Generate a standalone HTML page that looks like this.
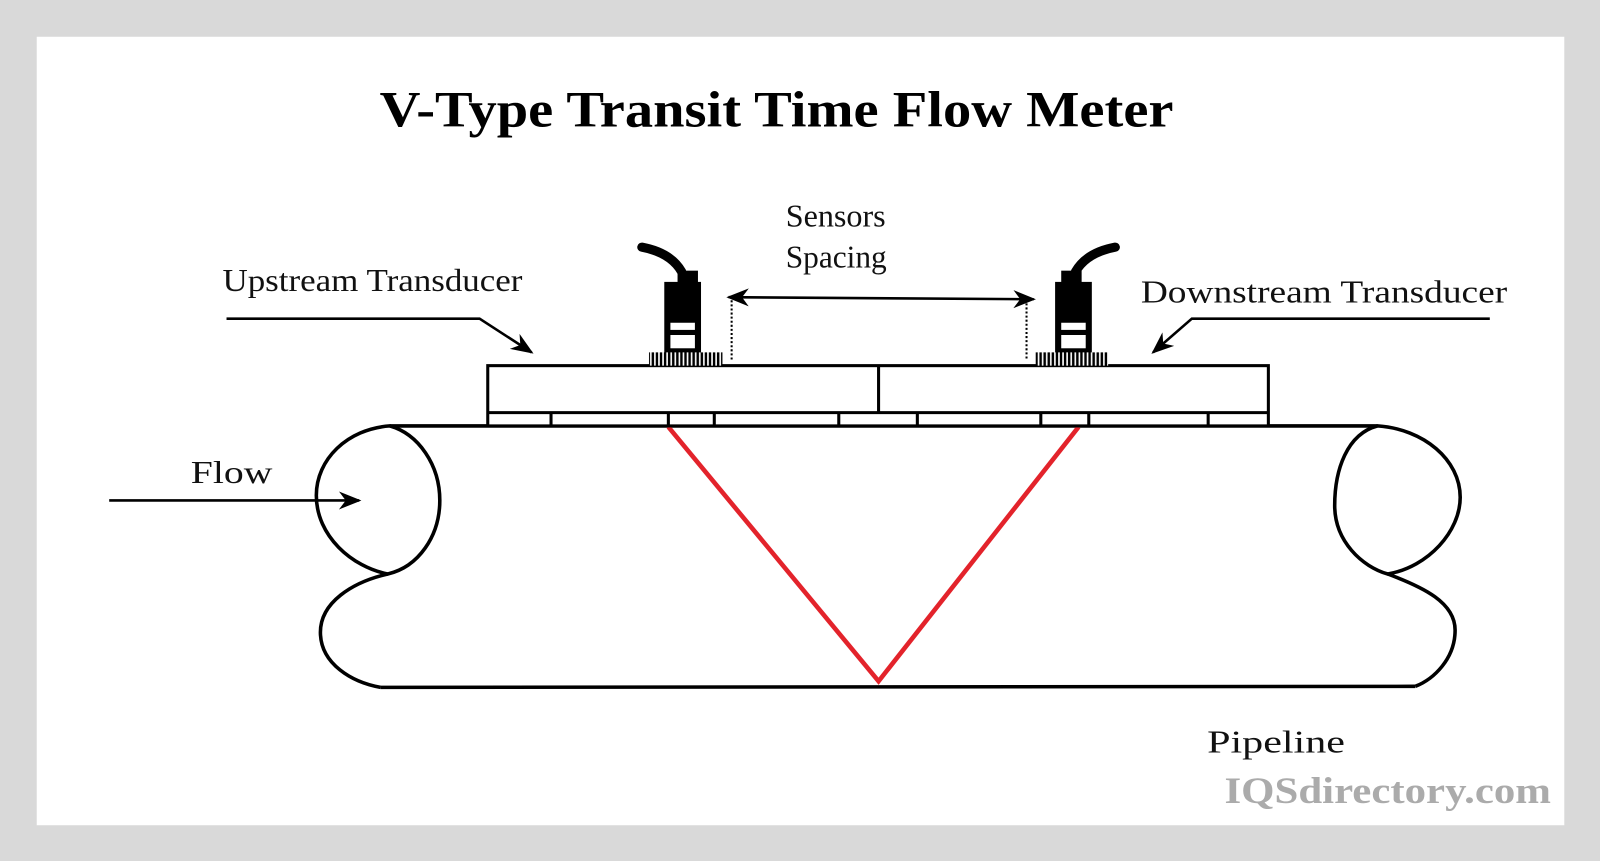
<!DOCTYPE html>
<html><head><meta charset="utf-8"><style>
html,body{margin:0;padding:0;background:#d9d9d9;}
svg{display:block;}
</style></head><body>
<svg width="1600" height="861" viewBox="0 0 1568 843" preserveAspectRatio="none" xmlns="http://www.w3.org/2000/svg">
<defs>
<marker id="ah" viewBox="0 0 10 10" refX="9" refY="5" markerWidth="9" markerHeight="9" orient="auto-start-reverse" markerUnits="userSpaceOnUse"><path d="M0,0 L10,5 L0,10 L3,5 z" fill="#000"/></marker>
<marker id="ab" viewBox="0 0 10 10" refX="9" refY="5" markerWidth="22" markerHeight="22" orient="auto-start-reverse" markerUnits="userSpaceOnUse"><path d="M0,1 L10,5 L0,9 L3,5 z" fill="#000"/></marker>
<pattern id="serr" width="4" height="10" patternUnits="userSpaceOnUse"><rect width="4" height="10" fill="#000"/><rect x="1" y="0" width="1.6" height="10" fill="#fff"/></pattern>
</defs>
<rect x="0" y="0" width="1568" height="843" fill="#d9d9d9"/>
<rect x="36" y="36" width="1497" height="772" fill="#fff"/>
<text x="761" y="124" text-anchor="middle" font-family="Liberation Serif, serif" font-weight="bold" font-size="50" textLength="778" lengthAdjust="spacingAndGlyphs">V-Type Transit Time Flow Meter</text>

<g font-family="Liberation Serif, serif" font-size="31" fill="#111">
<text x="218" y="285" textLength="294" lengthAdjust="spacingAndGlyphs">Upstream Transducer</text>
<text x="1118" y="296" textLength="359" lengthAdjust="spacingAndGlyphs">Downstream Transducer</text>
<text x="770" y="222" textLength="98" lengthAdjust="spacingAndGlyphs">Sensors</text>
<text x="770" y="262" textLength="99" lengthAdjust="spacingAndGlyphs">Spacing</text>
<text x="187" y="473" textLength="80" lengthAdjust="spacingAndGlyphs">Flow</text>
<text x="1183" y="737" textLength="135" lengthAdjust="spacingAndGlyphs">Pipeline</text>
</g>
<text x="1200" y="786" font-family="Liberation Serif, serif" font-weight="bold" font-size="36" fill="#ababab" textLength="320" lengthAdjust="spacingAndGlyphs">IQSdirectory.com</text>

<!-- pipe -->
<g fill="none" stroke="#000" stroke-width="3.5" stroke-linejoin="round">
<line x1="382" y1="417" x2="1350" y2="417"/>
<line x1="373" y1="673" x2="1387" y2="672"/>
<path d="M382,417 C340,420 310,450 310,485 C310,525 345,555 380,562 C410,555 431,525 431,490 C431,455 410,425 382,417 Z"/>
<path d="M380,562 C345,570 314,590 314,619 C314,650 345,668 373,673"/>
<path d="M1350,417 C1320,425 1308,460 1308,495 C1308,530 1335,555 1360,562 C1400,555 1431,520 1431,487 C1431,450 1395,420 1350,417 Z"/>
<path d="M1360,562 C1395,575 1426,590 1426,617 C1426,645 1405,665 1387,672"/>
</g>
<!-- V -->
<polyline points="655,418 861,667 1057,418" fill="none" stroke="#e3232b" stroke-width="4.5" stroke-linejoin="miter"/>

<!-- mount block -->
<g stroke="#000" stroke-width="3" fill="#fff">
<rect x="478" y="358" width="765" height="59"/>
<line x1="861" y1="358" x2="861" y2="404"/>
<line x1="478" y1="404" x2="1243" y2="404"/>
<line x1="540" y1="404" x2="540" y2="417"/>
<line x1="655" y1="404" x2="655" y2="417"/>
<line x1="700" y1="404" x2="700" y2="417"/>
<line x1="822" y1="404" x2="822" y2="417"/>
<line x1="899" y1="404" x2="899" y2="417"/>
<line x1="1020" y1="404" x2="1020" y2="417"/>
<line x1="1067" y1="404" x2="1067" y2="417"/>
<line x1="1184" y1="404" x2="1184" y2="417"/>
</g>

<!-- left transducer -->
<g>
<path d="M629,242 C645,245 660,252 668,266" fill="none" stroke="#000" stroke-width="9" stroke-linecap="round"/>
<rect x="664" y="265" width="20" height="12" fill="#000"/>
<rect x="651" y="276" width="36" height="70" fill="#000"/>
<rect x="657" y="316" width="24" height="7" fill="#fff"/>
<rect x="657" y="328" width="24" height="13" fill="#fff"/>
<rect x="636" y="345" width="72" height="13" fill="url(#serr)"/>
<line x1="717" y1="290" x2="717" y2="352" stroke="#000" stroke-width="2" stroke-dasharray="2,2"/>
</g>
<!-- right transducer -->
<g>
<path d="M1093,242 C1077,245 1062,252 1054,266" fill="none" stroke="#000" stroke-width="9" stroke-linecap="round"/>
<rect x="1040" y="265" width="20" height="12" fill="#000"/>
<rect x="1034" y="276" width="36" height="70" fill="#000"/>
<rect x="1040" y="316" width="24" height="7" fill="#fff"/>
<rect x="1040" y="328" width="24" height="13" fill="#fff"/>
<rect x="1015" y="345" width="71" height="13" fill="url(#serr)"/>
<line x1="1006" y1="297" x2="1006" y2="352" stroke="#000" stroke-width="2" stroke-dasharray="2,2"/>
</g>

<!-- arrows -->
<g stroke="#000" stroke-width="2.5" fill="none">
<line x1="714" y1="291" x2="1013" y2="293" marker-start="url(#ab)" marker-end="url(#ab)"/>
<line x1="107" y1="490" x2="352" y2="490" marker-end="url(#ab)"/>
<polyline points="222,312 470,312 521,345" marker-end="url(#ab)"/>
<polyline points="1460,312 1168,312 1130,345" marker-end="url(#ab)"/>
</g>
</svg>
</body></html>
